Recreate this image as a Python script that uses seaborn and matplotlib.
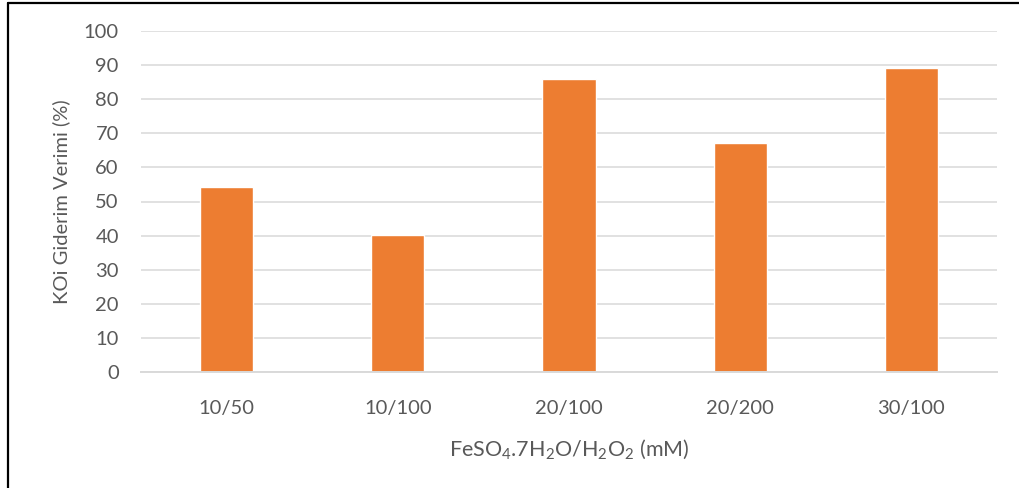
import matplotlib
matplotlib.use("Agg")
import matplotlib.pyplot as plt
from matplotlib.lines import Line2D
import seaborn as sns
import pandas as pd

# Fenton reagent ratios and COD removal efficiency
ratios = ["10/50", "10/100", "20/100", "20/200", "30/100"]
removal = [54.3, 40.3, 85.8, 67.3, 89.2]
y_ticks = [0, 10, 20, 30, 40, 50, 60, 70, 80, 90, 100]

sns.set_theme(style="white")
plt.rcParams["font.family"] = ["Lato", "DejaVu Sans"]
plt.rcParams["mathtext.fontset"] = "custom"
plt.rcParams["mathtext.rm"] = "Lato"

text_color = "#595959"
grid_color = "#D9D9D9"
bar_color = "#ED7D31"
fs = 14.5

df = pd.DataFrame({"ratio": ratios, "removal": removal})

fig = plt.figure(figsize=(10.2, 4.88), dpi=100)
ax = fig.add_axes([141 / 1020, 1 - 372 / 488, (997 - 141) / 1020, (372 - 31) / 488])

sns.barplot(data=df, x="ratio", y="removal", color=bar_color, saturation=1,
            width=0.31, ax=ax, zorder=3)

ax.set_ylim(0, 100)
ax.set_xlim(-0.5, len(ratios) - 0.5)
ax.set_yticks(y_ticks)
ax.set_yticklabels([str(t) for t in y_ticks])
ax.yaxis.grid(True, color=grid_color, linewidth=1.1, zorder=0)
ax.set_axisbelow(True)

for side in ["top", "right", "left"]:
    ax.spines[side].set_visible(False)
ax.spines["bottom"].set_color(grid_color)
ax.spines["bottom"].set_linewidth(1.4)
ax.spines["bottom"].set_zorder(4)

ax.tick_params(axis="both", length=0, labelsize=fs, colors=text_color)
ax.tick_params(axis="y", pad=16)
ax.tick_params(axis="x", pad=20)

ax.set_ylabel("KOi Giderim Verimi (%)", fontsize=fs, color=text_color, labelpad=10)
ax.set_xlabel(r"FeSO$_4$.7H$_2$O/H$_2$O$_2$ (mM)", fontsize=fs + 1,
              color=text_color, labelpad=15)

# Frame around the chart area (left and top edges)
fig.add_artist(Line2D([8.5 / 1020, 8.5 / 1020], [0, 1 - 3 / 488],
                      transform=fig.transFigure, color="black", linewidth=1.6))
fig.add_artist(Line2D([8.5 / 1020, 1], [1 - 3 / 488, 1 - 3 / 488],
                      transform=fig.transFigure, color="black", linewidth=1.6))

fig.savefig("out.png", dpi=100, facecolor="white")
